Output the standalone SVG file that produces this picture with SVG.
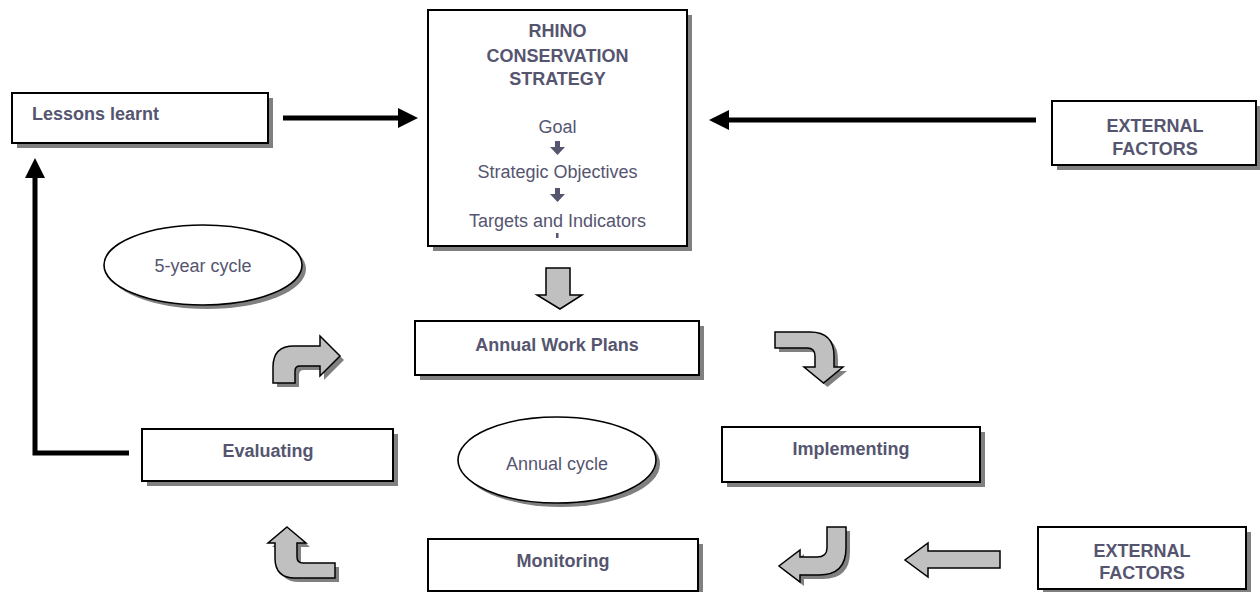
<svg xmlns="http://www.w3.org/2000/svg" width="1260" height="592" viewBox="0 0 1260 592">
<style>
.box{fill:#fff;stroke:#000;stroke-width:2}
.sh{fill:#808080}
.blk{fill:#c0c0c0;stroke:#000;stroke-width:1.5;stroke-linejoin:miter}
.ell{fill:#fff;stroke:#000;stroke-width:1.6}
.lb{font-family:"Liberation Sans",Arial,sans-serif;font-size:18px;font-weight:bold;fill:#555570}
.lr{font-family:"Liberation Sans",Arial,sans-serif;font-size:18px;fill:#555570}
.conn{fill:none;stroke:#000;stroke-width:5}
</style>
<defs>
<marker id="ah" markerUnits="userSpaceOnUse" markerWidth="20" markerHeight="20" viewBox="0 0 20 20" refX="0" refY="10" orient="auto">
<path d="M0,0 L20,10 L0,20 Z" fill="#000"/>
</marker>
</defs>
<rect width="1260" height="592" fill="#fff"/>

<g id="connectors">
<path class="conn" d="M283,118 L398,118" marker-end="url(#ah)"/>
<path class="conn" d="M1036,120 L729,120" marker-end="url(#ah)"/>
<path class="conn" d="M129,453 L35,453 L35,178" marker-end="url(#ah)"/>
<g id="down-arrow">
<path class="blk" d="M546,268 L570,268 L570,295 L582,295 L560,309 L537,295 L546,295 Z"/>
</g>
<g id="curve-top-left">
<path class="sh" transform="translate(4,4)" d="M273,383 L273,367 Q273,346 294,346 L320,346 L320,336 L340,356 L320,376 L320,366 L300,366 Q295,366 295,371 L295,383 Z"/>
<path class="blk" d="M273,383 L273,367 Q273,346 294,346 L320,346 L320,336 L340,356 L320,376 L320,366 L300,366 Q295,366 295,371 L295,383 Z"/>
</g>
<g id="curve-top-right">
<path class="sh" transform="translate(4,4)" d="M775,332 L810,332 Q834,332 834,356 L834,367 L843,367 L823.5,383 L804,367 L815,367 L815,356 Q815,348 807,348 L775,348 Z"/>
<path class="blk" d="M775,332 L810,332 Q834,332 834,356 L834,367 L843,367 L823.5,383 L804,367 L815,367 L815,356 Q815,348 807,348 L775,348 Z"/>
</g>
<g id="curve-bottom-left">
<path class="sh" transform="translate(4,4)" d="M287,527 L306,543 L297,543 L297,557 Q297,563 303,563 L335,563 L335,578 L295,578 Q275,578 275,558 L275,543 L268,543 Z"/>
<path class="blk" d="M287,527 L306,543 L297,543 L297,557 Q297,563 303,563 L335,563 L335,578 L295,578 Q275,578 275,558 L275,543 L268,543 Z"/>
</g>
<g id="curve-bottom-right">
<path class="sh" transform="translate(4,4)" d="M827,527 L846,527 L846,548 Q846,575 819,575 L800,575 L800,582 L779,566 L800,550 L800,557 L817,557 Q827,557 827,548 Z"/>
<path class="blk" d="M827,527 L846,527 L846,548 Q846,575 819,575 L800,575 L800,582 L779,566 L800,550 L800,557 L817,557 Q827,557 827,548 Z"/>
</g>
<g id="straight-left-arrow">
<path class="blk" d="M1000,551 L928,551 L928,543 L905,560 L928,577 L928,568 L1000,568 Z"/>
</g>
</g>

<g id="rhino-strategy">
<rect class="sh" x="433" y="15" width="259" height="236"/>
<rect class="box" x="428" y="10" width="259" height="236"/>
<text class="lb" x="557.5" y="37" text-anchor="middle">RHINO</text>
<text class="lb" x="557.5" y="62" text-anchor="middle">CONSERVATION</text>
<text class="lb" x="557.5" y="85" text-anchor="middle">STRATEGY</text>
<text class="lr" x="557.5" y="133" text-anchor="middle">Goal</text>
<path fill="#555570" d="M555,141 L560,141 L560,147 L565,147 L557.5,155 L550,147 L555,147 Z"/>
<text class="lr" x="557.5" y="178" text-anchor="middle">Strategic Objectives</text>
<path fill="#555570" d="M555,188 L560,188 L560,194 L565,194 L557.5,202 L550,194 L555,194 Z"/>
<text class="lr" x="557.5" y="227" text-anchor="middle">Targets and Indicators</text>
<rect fill="#555570" x="556" y="233" width="2.5" height="5"/>
</g>

<g id="lessons-learnt">
<rect class="sh" x="17" y="98" width="256" height="50"/>
<rect class="box" x="12" y="93" width="256" height="50"/>
<text class="lb" x="32" y="120">Lessons learnt</text>
</g>

<g id="external-factors-top">
<rect class="sh" x="1057" y="106" width="204" height="64"/>
<rect class="box" x="1052" y="101" width="204" height="64"/>
<text class="lb" x="1155" y="132" text-anchor="middle">EXTERNAL</text>
<text class="lb" x="1155" y="155" text-anchor="middle">FACTORS</text>
</g>

<g id="five-year-cycle">
<ellipse class="sh" cx="207" cy="269" rx="99" ry="40"/>
<ellipse class="ell" cx="203" cy="265" rx="99" ry="40"/>
<text class="lr" x="203" y="272" text-anchor="middle">5-year cycle</text>
</g>

<g id="annual-work-plans">
<rect class="sh" x="420" y="326" width="284" height="54"/>
<rect class="box" x="415" y="321" width="284" height="54"/>
<text class="lb" x="557" y="351" text-anchor="middle">Annual Work Plans</text>
</g>

<g id="evaluating">
<rect class="sh" x="147" y="434" width="251" height="52"/>
<rect class="box" x="142" y="429" width="251" height="52"/>
<text class="lb" x="268" y="457" text-anchor="middle">Evaluating</text>
</g>

<g id="annual-cycle">
<ellipse class="sh" cx="561" cy="464" rx="99" ry="43"/>
<ellipse class="ell" cx="557" cy="460" rx="99" ry="43"/>
<text class="lr" x="557" y="470" text-anchor="middle">Annual cycle</text>
</g>

<g id="implementing">
<rect class="sh" x="727" y="432" width="258" height="55"/>
<rect class="box" x="722" y="427" width="258" height="55"/>
<text class="lb" x="851" y="455" text-anchor="middle">Implementing</text>
</g>

<g id="monitoring">
<rect class="sh" x="433" y="544" width="270" height="52"/>
<rect class="box" x="428" y="539" width="270" height="52"/>
<text class="lb" x="563" y="567" text-anchor="middle">Monitoring</text>
</g>

<g id="external-factors-bottom">
<rect class="sh" x="1043" y="532" width="208" height="62"/>
<rect class="box" x="1038" y="527" width="208" height="62"/>
<text class="lb" x="1142" y="557" text-anchor="middle">EXTERNAL</text>
<text class="lb" x="1142" y="579" text-anchor="middle">FACTORS</text>
</g>
</svg>
